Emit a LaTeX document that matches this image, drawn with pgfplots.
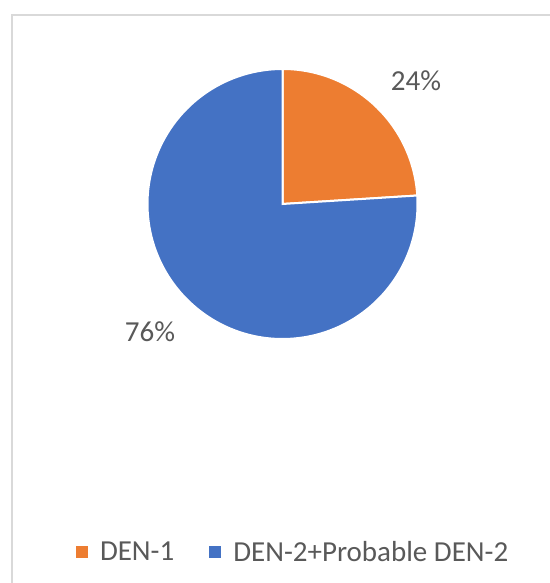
\documentclass[border=0pt]{standalone}
\usepackage{pgfplots}
\pgfplotsset{compat=1.18}
\usepackage{fontspec}
\setmainfont{Carlito}
\definecolor{pieorange}{HTML}{ED7D31}
\definecolor{pieblue}{HTML}{4472C4}
\definecolor{txt}{HTML}{595959}
\definecolor{framegray}{HTML}{D9D9D9}
% data (percent)
\def\valA{24}% DEN-1
\def\valB{76}% DEN-2+Probable DEN-2
\pgfmathsetmacro{\angA}{90-\valA*3.6}
\pgfmathsetmacro{\angB}{\angA-\valB*3.6}
\begin{document}
\begin{tikzpicture}[x=1bp,y=1bp]
\useasboundingbox (0,0) rectangle (550,583);
\draw[framegray, line width=2bp] (11.5,568) rectangle (562,-12);
\begin{axis}[
  x=1bp, y=1bp, xmin=0, xmax=550, ymin=0, ymax=583,
  hide axis, scale only axis, anchor=origin, at={(0,0)},
  clip=false,
  legend columns=2,
  legend image code/.code={\fill[#1] (0bp,-6bp) rectangle (12bp,6bp);},
  legend style={draw=none, fill=none, at={(axis cs:76,31)}, anchor=west,
    inner sep=0pt, outer sep=0pt,
    font=\fontsize{29bp}{34bp}\selectfont, text=txt,
    nodes={inner sep=0pt},
    /tikz/every odd column/.append style={column sep=12bp},
    /tikz/every even column/.append style={column sep=35bp}},
]
\fill[pieorange, draw=white, line width=2bp] (axis cs:282.5,379) -- ++(90:135bp)
   arc[start angle=90, end angle=\angA, radius=135bp] -- cycle;
\fill[pieblue, draw=white, line width=2bp] (axis cs:282.5,379) -- ++(\angA:135bp)
   arc[start angle=\angA, end angle=\angB, radius=135bp] -- cycle;
\node[text=txt, font=\fontsize{29bp}{34bp}\selectfont, anchor=base, inner sep=0pt] at (axis cs:416,492) {\valA\%};
\node[text=txt, font=\fontsize{29bp}{34bp}\selectfont, anchor=base, inner sep=0pt] at (axis cs:150,241) {\valB\%};
\addlegendimage{fill=pieorange, draw=none}
\addlegendentry{DEN-1}
\addlegendimage{fill=pieblue, draw=none}
\addlegendentry{DEN-2+Probable DEN-2}
\end{axis}
\end{tikzpicture}
\end{document}
